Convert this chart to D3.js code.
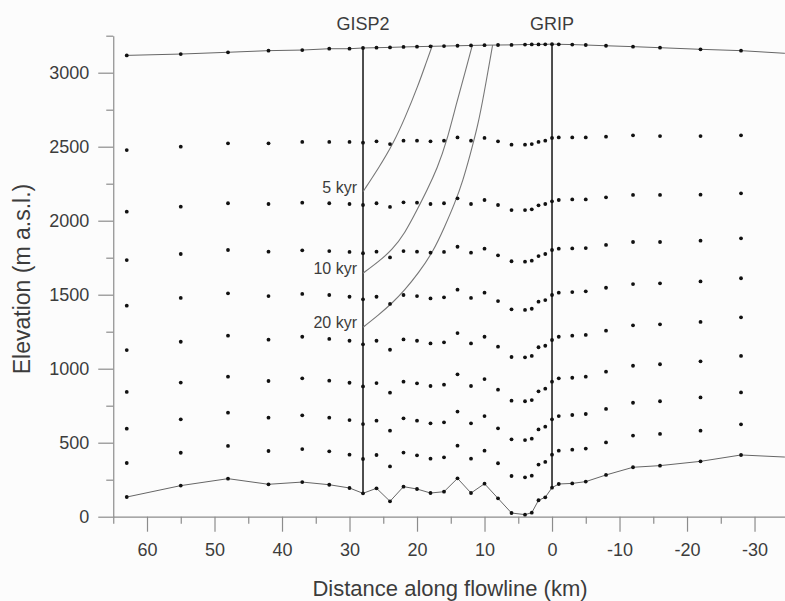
<!DOCTYPE html>
<html>
<head>
<meta charset="utf-8">
<script src="https://cdn.jsdelivr.net/npm/d3@7"></script>
<style>
  body { margin: 0; background: #fcfcfc; }
  svg { display: block; font-family: "Liberation Sans", Arial, sans-serif; }
</style>
</head>
<body>
<svg id="chart" width="785" height="601"></svg>
<script>
// distance of each grid column along the flowline (km), GRIP = 0
var distKm = [63, 55, 48, 42, 37, 33, 30, 28, 26, 24, 22, 20, 18, 16, 14, 12, 10, 8, 6, 4, 3, 2, 1, 0, -1, -3, -5, -8, -12, -16, -22, -28];

// elevations (m a.s.l.) per column
var surface = [3117, 3126, 3138, 3149, 3153, 3162, 3162, 3167, 3169, 3171, 3174, 3176, 3178, 3180, 3182, 3184, 3186, 3187, 3188, 3190, 3191, 3191, 3192, 3193, 3192, 3190, 3187, 3182, 3176, 3169, 3158, 3149];
var layer1 = [2477, 2500, 2523, 2523, 2532, 2532, 2532, 2527, 2536, 2518, 2541, 2541, 2536, 2541, 2563, 2541, 2559, 2536, 2514, 2514, 2518, 2532, 2541, 2559, 2563, 2563, 2563, 2568, 2577, 2572, 2572, 2577];
var layer2 = [2061, 2095, 2118, 2113, 2122, 2118, 2113, 2106, 2118, 2093, 2124, 2122, 2113, 2118, 2151, 2113, 2140, 2106, 2072, 2072, 2077, 2104, 2113, 2131, 2140, 2144, 2144, 2158, 2174, 2174, 2176, 2185];
var layer3 = [1734, 1775, 1802, 1791, 1800, 1795, 1789, 1780, 1791, 1752, 1795, 1791, 1784, 1789, 1824, 1784, 1811, 1766, 1726, 1723, 1730, 1761, 1775, 1802, 1811, 1813, 1815, 1836, 1856, 1856, 1865, 1881];
var layer4 = [1426, 1478, 1509, 1491, 1505, 1498, 1486, 1469, 1486, 1438, 1498, 1491, 1475, 1482, 1534, 1478, 1514, 1457, 1401, 1397, 1405, 1453, 1464, 1498, 1514, 1518, 1523, 1547, 1572, 1577, 1590, 1611];
var layer5 = [1126, 1182, 1223, 1196, 1216, 1201, 1189, 1165, 1189, 1128, 1198, 1189, 1171, 1178, 1241, 1171, 1216, 1149, 1079, 1077, 1086, 1145, 1155, 1194, 1216, 1223, 1228, 1257, 1293, 1300, 1316, 1347];
var layer6 = [843, 906, 946, 917, 935, 919, 905, 880, 903, 838, 912, 901, 883, 892, 962, 883, 930, 858, 784, 780, 788, 847, 865, 912, 935, 939, 946, 980, 1020, 1030, 1050, 1086];
var layer7 = [595, 658, 703, 669, 685, 669, 653, 626, 649, 581, 665, 649, 631, 638, 710, 631, 680, 597, 523, 518, 527, 590, 608, 658, 680, 687, 694, 728, 770, 780, 806, 840];
var layer8 = [363, 432, 478, 444, 457, 442, 419, 390, 417, 340, 433, 415, 392, 401, 480, 392, 446, 361, 275, 266, 277, 352, 370, 419, 446, 453, 460, 502, 548, 559, 581, 624];
var bed = [133, 210, 257, 219, 234, 216, 194, 158, 192, 104, 203, 187, 160, 169, 259, 160, 223, 124, 25, 14, 27, 111, 131, 196, 221, 225, 237, 282, 334, 345, 374, 417];

// surface and bed lines run on to the right edge
var surfaceEnd = [-34.5, 3131];
var bedEnd = [-34.5, 403];

// ice cores
var coreNames = ["GISP2", "GRIP"];
var coreKm = [28, 0];

// isochrones (traced km / elevation, starting at GISP2)
var isoLabels = ["5 kyr", "10 kyr", "20 kyr"];
var iso5Km = [28, 25.7, 23.5, 21.8, 19.8, 18.6, 17.7];
var iso5Elev = [2196, 2354, 2523, 2692, 2917, 3074, 3187];
var iso10Km = [28, 25.7, 23.7, 21.8, 20.0, 18.5, 17.0, 15.6, 14.1, 12.7, 11.8];
var iso10Elev = [1645, 1723, 1802, 1915, 2072, 2207, 2354, 2534, 2804, 3030, 3187];
var iso20Km = [28, 25.7, 23.7, 21.8, 19.8, 17.6, 15.9, 14.4, 13.2, 12.1, 11.0, 10.1, 8.8];
var iso20Elev = [1280, 1363, 1442, 1532, 1645, 1791, 1959, 2118, 2270, 2450, 2640, 2850, 3187];

var xTicks = [60, 50, 40, 30, 20, 10, 0, -10, -20, -30];
var xMinor = [65, 55, 45, 35, 25, 15, 5, -5, -15, -25];
var yTicks = [0, 500, 1000, 1500, 2000, 2500, 3000];
var yMinor = [250, 750, 1250, 1750, 2250, 2750, 3250];

var svg = d3.select("#chart");

var x = d3.scaleLinear().domain([65, -34.5]).range([113.25, 784.9]);
var y = d3.scaleLinear().domain([0, 3250]).range([516.7, 35.7]);

var axisColor = "#8c8c8c";
var textColor = "#3c3c3c";

// axes
svg.append("g").attr("transform", "translate(0," + y(0) + ")")
  .call(d3.axisBottom(x).tickValues(xTicks).tickSize(15).tickSizeOuter(0).tickPadding(12)
    .tickFormat(function(d) { return String(d); }));
svg.append("g").attr("transform", "translate(0," + y(0) + ")")
  .call(d3.axisBottom(x).tickValues(xMinor).tickSize(7).tickFormat(""))
  .select(".domain").remove();

svg.append("g").attr("transform", "translate(" + x(65) + ",0)")
  .call(d3.axisLeft(y).tickValues(yTicks).tickSize(15).tickSizeOuter(0).tickPadding(9)
    .tickFormat(function(d) { return String(d); }));
svg.append("g").attr("transform", "translate(" + x(65) + ",0)")
  .call(d3.axisLeft(y).tickValues(yMinor).tickSize(7).tickFormat(""))
  .select(".domain").remove();

svg.selectAll(".domain, .tick line").attr("stroke", axisColor).attr("stroke-width", 1.2);
svg.selectAll(".tick text").attr("fill", textColor).attr("font-size", "18px")
  .attr("font-family", "Liberation Sans, Arial, sans-serif");

// axis titles
svg.append("text")
  .attr("x", 450).attr("y", 596)
  .attr("text-anchor", "middle")
  .attr("font-size", "22px").attr("fill", textColor)
  .text("Distance along flowline (km)");

svg.append("text")
  .attr("transform", "translate(30,279) rotate(-90)")
  .attr("text-anchor", "middle")
  .attr("font-size", "23px").attr("fill", textColor)
  .text("Elevation (m a.s.l.)");

// surface and bed lines
var line = d3.line()
  .x(function(d) { return x(d[0]); })
  .y(function(d) { return y(d[1]); });

var surfPts = distKm.map(function(d, i) { return [d, surface[i]]; }).concat([surfaceEnd]);
var bedPts = distKm.map(function(d, i) { return [d, bed[i]]; }).concat([bedEnd]);

svg.append("path").datum(surfPts).attr("d", line)
  .attr("fill", "none").attr("stroke", "#666").attr("stroke-width", 1);
svg.append("path").datum(bedPts).attr("d", line)
  .attr("fill", "none").attr("stroke", "#666").attr("stroke-width", 1);

// core boreholes
coreKm.forEach(function(k, c) {
  var i = distKm.indexOf(k);
  svg.append("line")
    .attr("x1", x(k)).attr("x2", x(k))
    .attr("y1", y(surface[i])).attr("y2", y(bed[i]))
    .attr("stroke", "#222").attr("stroke-width", 1.6);
  svg.append("text")
    .attr("x", x(k)).attr("y", 30)
    .attr("text-anchor", "middle")
    .attr("font-size", "18px").attr("fill", textColor)
    .text(coreNames[c]);
});

// isochrones
var isoLine = d3.line()
  .x(function(d) { return x(d[0]); })
  .y(function(d) { return y(d[1]); })
  .curve(d3.curveBasis);

var isos = [[iso5Km, iso5Elev], [iso10Km, iso10Elev], [iso20Km, iso20Elev]];
isos.forEach(function(iso, j) {
  var pts = iso[0].map(function(d, i) { return [d, iso[1][i]]; });
  svg.append("path").datum(pts).attr("d", isoLine)
    .attr("fill", "none").attr("stroke", "#777").attr("stroke-width", 1.1);
  svg.append("text")
    .attr("x", x(pts[0][0]) - 6).attr("y", y(pts[0][1]) + 1)
    .attr("text-anchor", "end")
    .attr("font-size", "16px").attr("fill", textColor)
    .text(isoLabels[j]);
});

// grid points
var layers = [surface, layer1, layer2, layer3, layer4, layer5, layer6, layer7, layer8, bed];
layers.forEach(function(layer) {
  svg.append("g").selectAll("circle")
    .data(layer)
    .enter().append("circle")
    .attr("cx", function(d, i) { return x(distKm[i]); })
    .attr("cy", function(d) { return y(d); })
    .attr("r", 1.9)
    .attr("fill", "#111");
});
</script>
</body>
</html>
